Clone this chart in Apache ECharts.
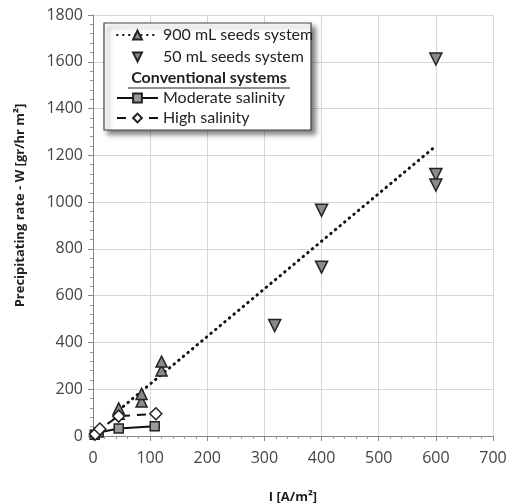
<!DOCTYPE html>
<html>
<head>
<meta charset="utf-8">
<script src="https://cdn.jsdelivr.net/npm/echarts@6/dist/echarts.min.js"></script>
<style>
  html, body { margin: 0; padding: 0; background: #fff; }
  #chart { width: 506px; height: 503px; }
</style>
</head>
<body>
<div id="chart"></div>
<script>
// values
const seeds900X = [45, 45, 85, 85, 120, 120];
const seeds900Y = [95, 118, 148, 180, 280, 318];
const trendX = [45, 600];
const trendY = [110, 1240];
const seeds50X = [318, 400, 400, 600, 600, 600];
const seeds50Y = [472, 965, 722, 1612, 1118, 1073];
const moderateX = [3, 10, 45, 108];
const moderateY = [5, 15, 32, 42];
const highX = [4, 12, 45, 110];
const highY = [8, 30, 85, 95];

const FONT = 'Open Sans';
const LEGEND_FONT = 'Lato';
const EDGE = '#222';

const pairs = (xs, ys) => xs.map((x, i) => [x, ys[i]]);

const chart = echarts.init(document.getElementById('chart'));

const legendBase = {
  orient: 'vertical',
  left: 116,
  padding: 0,
  itemWidth: 41,
  itemHeight: 11,
  selectedMode: false,
  textStyle: { fontFamily: LEGEND_FONT, fontSize: 16, color: '#222' }
};

chart.setOption({
  animation: false,
  backgroundColor: '#fff',
  grid: { left: 93, right: 13, top: 15, bottom: 67, outerBoundsMode: 'none' },
  xAxis: {
    type: 'value',
    min: 0,
    max: 700,
    interval: 100,
    name: 'I [A/m²]',
    nameLocation: 'middle',
    nameGap: 55,
    nameTextStyle: { fontFamily: FONT, fontWeight: 'bold', fontSize: 13, color: '#222' },
    axisLine: { lineStyle: { color: '#888' } },
    axisTick: { show: true, length: 5, lineStyle: { color: '#888' } },
    minorTick: { show: true, splitNumber: 5, length: 3, lineStyle: { color: '#999' } },
    axisLabel: { fontFamily: FONT, fontSize: 16, color: '#444', margin: 14, formatter: (v) => String(v) },
    splitLine: { show: true, lineStyle: { color: '#d6d6d6' } }
  },
  yAxis: {
    type: 'value',
    min: 0,
    max: 1800,
    interval: 200,
    name: 'Precipitating rate - W [gr/hr m²]',
    nameLocation: 'middle',
    nameGap: 66,
    nameTextStyle: { fontFamily: FONT, fontWeight: 'bold', fontSize: 13, color: '#222', padding: [0, 0, 0, 40] },
    axisLine: { show: true, lineStyle: { color: '#888' } },
    axisTick: { show: true, length: 5, lineStyle: { color: '#888' } },
    minorTick: { show: true, splitNumber: 5, length: 3, lineStyle: { color: '#999' } },
    axisLabel: { fontFamily: FONT, fontSize: 16, color: '#444', margin: 10, formatter: (v) => String(v) },
    splitLine: { show: true, lineStyle: { color: '#d6d6d6' } }
  },
  legend: [
    Object.assign({}, legendBase, {
      data: ['900 mL seeds system', '50 mL seeds system'],
      top: 27,
      itemGap: 6
    }),
    Object.assign({}, legendBase, {
      data: ['Moderate salinity', 'High salinity'],
      top: 90,
      itemGap: 4
    })
  ],
  graphic: [
    {
      type: 'rect',
      z: 3,
      shape: { x: 104, y: 23, width: 207, height: 107 },
      style: {
        fill: '#fff',
        stroke: '#444',
        lineWidth: 1.2,
        shadowBlur: 5,
        shadowOffsetX: 4,
        shadowOffsetY: 4,
        shadowColor: 'rgba(0,0,0,0.5)'
      }
    },
    {
      type: 'text',
      z: 5,
      style: {
        x: 209,
        y: 78,
        text: 'Conventional systems',
        align: 'center',
        verticalAlign: 'middle',
        font: 'bold 16px "Lato"',
        fill: '#222'
      }
    },
    {
      type: 'line',
      z: 5,
      shape: { x1: 128, y1: 88, x2: 290, y2: 88 },
      style: { stroke: '#222', lineWidth: 1.2 }
    }
  ],
  series: [
    {
      name: '900 mL seeds system',
      type: 'line',
      data: pairs(trendX, trendY),
      showSymbol: false,
      symbol: 'triangle',
      symbolSize: 9,
      itemStyle: { color: '#8a8a8a', borderColor: EDGE, borderWidth: 1.5 },
      lineStyle: { color: '#111', width: 3, type: [0.5, 5.5], cap: 'round' },
      z: 2
    },
    {
      name: '900 mL seeds system',
      type: 'scatter',
      data: pairs(seeds900X, seeds900Y),
      symbol: 'triangle',
      symbolSize: 11,
      itemStyle: { color: '#8a8a8a', borderColor: EDGE, borderWidth: 1.5, opacity: 1 },
      z: 3
    },
    {
      // line series with an invisible line so the legend shows just the marker
      name: '50 mL seeds system',
      type: 'line',
      data: pairs(seeds50X, seeds50Y),
      symbol: 'triangle',
      symbolRotate: 180,
      symbolSize: 12,
      itemStyle: { color: '#8a8a8a', borderColor: EDGE, borderWidth: 1.5, opacity: 1 },
      lineStyle: { opacity: 0, width: 0 },
      z: 3
    },
    {
      name: 'Moderate salinity',
      type: 'line',
      data: pairs(moderateX, moderateY),
      symbol: 'rect',
      symbolSize: 9,
      itemStyle: { color: '#9a9a9a', borderColor: EDGE, borderWidth: 1.5 },
      lineStyle: { color: '#111', width: 2 },
      z: 3
    },
    {
      name: 'High salinity',
      type: 'line',
      data: pairs(highX, highY),
      symbol: 'diamond',
      symbolSize: 12,
      itemStyle: { color: '#fff', borderColor: EDGE, borderWidth: 1.5 },
      lineStyle: { color: '#111', width: 2, type: [9, 7] },
      z: 3
    }
  ]
});
</script>
</body>
</html>
